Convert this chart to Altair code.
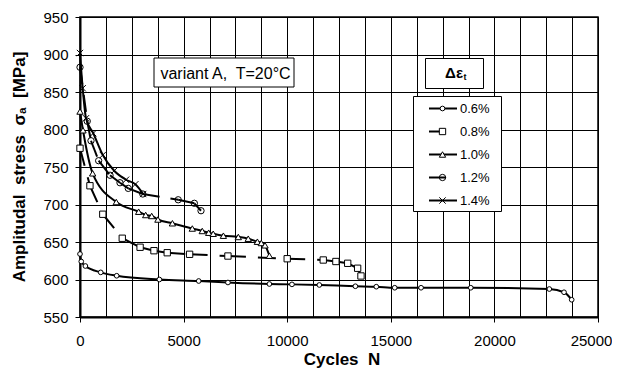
import altair as alt
import pandas as pd

# ---------------- data ----------------
series = ["0.6%", "0.8%", "1.0%", "1.2%", "1.4%"]

n_06 = [0, 60, 260, 1000, 1770, 3830, 5730, 7140, 9140, 10230, 11550, 13290,
        14300, 15190, 16460, 18860, 22650, 23360, 23730]
s_06 = [634, 624, 618, 609.5, 605, 600, 598, 596, 594, 593.5, 592.7, 591,
        590.4, 589, 589, 589, 587.3, 583, 573]

n_08 = [0, 480, 1100, 2040, 2900, 3570, 4210, 5290, 7140, 10000, 11740, 12350,
        12920, 13400, 13560]
s_08 = [775, 725, 687, 655, 643, 638.4, 635.7, 633.6, 631.3, 627.7, 626, 624,
        621.6, 615, 604.7]

n_10 = [0, 145, 610, 1750, 2830, 3170, 3460, 3760, 4460, 5420, 5900, 6210,
        6430, 6920, 7640, 8120, 8560, 8750, 8930, 9140]
s_10 = [824, 799, 741.6, 703.3, 690.4, 686, 684.7, 680, 675, 668, 664.7, 662.4,
        661, 658.4, 656.7, 654.4, 650.4, 648.7, 645.6, 631.7]

n_12 = [0, 350, 530, 900, 1450, 1930, 2330, 3030, 4740, 5520, 5840]
s_12 = [883, 811, 785, 758.4, 739, 729, 721.5, 714, 706.3, 701.6, 691.7]

n_14 = [0, 130, 290, 640, 1100, 1650, 2220, 2670, 3050]
s_14 = [902, 855, 815, 795, 766, 745, 733, 727, 714]

x_ticks = list(range(0, 25001, 1250))
y_ticks = list(range(550, 951, 50))

cycles = dict(zip(series, [n_06, n_08, n_10, n_12, n_14]))
stress = dict(zip(series, [s_06, s_08, s_10, s_12, s_14]))

# ---------------- styles ----------------
FONT = "Liberation Sans"
XMARK = "M-1,-1L1,1M-1,1L1,-1"
style = {
    "0.6%": dict(shape="circle", size=22, fill="white", dash=None, leg_end=377),
    "0.8%": dict(shape="square", size=40, fill="white", dash=[18, 12], leg_end=360),
    "1.0%": dict(shape="triangle-up", size=40, fill="white", dash=None, leg_end=377),
    "1.2%": dict(shape="circle", size=40, fill=None, dash=[17, 11], leg_end=366),
    "1.4%": dict(shape=XMARK, size=40, fill=None, dash=None, leg_end=377),
}

x_scale = alt.Scale(domain=[0, 25000], nice=False, zero=False)
y_scale = alt.Scale(domain=[550, 950], nice=False, zero=False)

x_axis = alt.Axis(
    values=x_ticks, format="d",
    labelExpr="datum.value % 5000 === 0 ? datum.label : ''",
    tickOpacity={"condition": {"test": "datum.value % 5000 === 0", "value": 1}, "value": 0},
    labelOffset={"condition": {"test": "datum.value === 25000", "value": -7}, "value": 0},
    grid=True, gridColor="#000", gridWidth=1, gridOpacity=1,
    domainColor="#000", domainWidth=2,
    tickColor="#000", tickSize=5, tickWidth=1,
    labelFont=FONT, labelFontSize=15, labelColor="#000", labelPadding=11,
    labelFlush=False, labelOverlap=False,
    title="Cycles\u00a0 N", titleFont=FONT, titleFontSize=17, titleFontWeight="bold",
    titleColor="#000", titleX=261.5, titleY=42.5, titleBaseline="middle", titleAlign="center",
)
y_axis = alt.Axis(
    values=y_ticks, format="d",
    grid=True, gridColor="#000", gridWidth=1, gridOpacity=1,
    domainColor="#000", domainWidth=2,
    tickColor="#000", tickSize=5, tickWidth=1,
    labelFont=FONT, labelFontSize=15, labelColor="#000", labelPadding=7,
    labelFlush=False, labelOverlap=False,
    title="Amplitudal\u00a0 stress\u00a0 \u03c3\u2090\u00a0 [MPa]", titleFont=FONT,
    titleFontSize=17, titleFontWeight="bold", titleColor="#000",
    titleAngle=270, titleX=-60.5, titleY=149.5, titleBaseline="middle", titleAlign="center",
)

X = alt.X("N:Q", scale=x_scale, axis=x_axis)
Y = alt.Y("S:Q", scale=y_scale, axis=y_axis)

layers = []
for s in series:
    df = pd.DataFrame({"N": cycles[s], "S": stress[s]})
    st = style[s]
    if st["dash"] is None:
        line = alt.Chart(df).mark_line(
            interpolate="monotone", color="#000", strokeWidth=2
        ).encode(x=X, y=Y, order="N:Q")
    else:
        seg = pd.DataFrame({
            "N": df["N"].values[:-1], "S": df["S"].values[:-1],
            "N2": df["N"].values[1:], "S2": df["S"].values[1:],
        })
        line = alt.Chart(seg).mark_rule(
            color="#000", strokeWidth=2, strokeDash=st["dash"]
        ).encode(x=X, y=Y, x2="N2:Q", y2="S2:Q")
    layers.append(line)

for s in series:
    df = pd.DataFrame({"N": cycles[s], "S": stress[s]})
    st = style[s]
    kw = dict(shape=st["shape"], size=st["size"], stroke="#000", strokeWidth=1, opacity=1)
    if st["fill"]:
        kw.update(filled=True, fill=st["fill"], fillOpacity=1)
    else:
        kw.update(filled=False)
    layers.append(alt.Chart(df).mark_point(**kw).encode(x=X, y=Y))

# ---------------- annotation boxes ----------------
one = pd.DataFrame({"k": [0]})

def box(x1, y1, x2, y2):
    return alt.Chart(one).mark_rect(fill="white", stroke="#000", strokeWidth=1).encode(
        x=alt.value(x1), x2=alt.value(x2), y=alt.value(y1), y2=alt.value(y2)
    )

layers.append(box(74, 41, 214, 70))
layers.append(
    alt.Chart(pd.DataFrame({"t": ["variant A,\u00a0 T=20\u00b0C"]})).mark_text(
        font=FONT, fontSize=16, color="#000", align="center", baseline="middle"
    ).encode(x=alt.value(145.5), y=alt.value(56.5), text="t:N")
)

layers.append(box(345.5, 41.5, 403.5, 71.5))
layers.append(
    alt.Chart(pd.DataFrame({"t": ["\u0394\u03b5"]})).mark_text(
        font=FONT, fontSize=15, fontWeight="bold", color="#000", align="right", baseline="middle"
    ).encode(x=alt.value(383), y=alt.value(56), text="t:N")
)
layers.append(
    alt.Chart(pd.DataFrame({"t": ["t"]})).mark_text(
        font=FONT, fontSize=9, fontWeight="bold", color="#000", align="left", baseline="middle"
    ).encode(x=alt.value(383.5), y=alt.value(60), text="t:N")
)

# legend
layers.append(box(333.5, 79.5, 421.5, 194.5))
for i, s in enumerate(series):
    st = style[s]
    py = 91.5 + 23 * i
    layers.append(
        alt.Chart(one).mark_rule(color="#000", strokeWidth=2).encode(
            x=alt.value(349), x2=alt.value(st["leg_end"]), y=alt.value(py)
        )
    )
    kw = dict(shape=st["shape"], size=st["size"], stroke="#000", strokeWidth=1, opacity=1)
    if st["fill"]:
        kw.update(filled=True, fill=st["fill"], fillOpacity=1)
    else:
        kw.update(filled=False)
    layers.append(
        alt.Chart(one).mark_point(**kw).encode(x=alt.value(362.5), y=alt.value(py))
    )

leg_df = pd.DataFrame({"series": series, "i": list(range(len(series)))})
layers.append(
    alt.Chart(leg_df).mark_text(
        font=FONT, fontSize=13, color="#000", align="left", baseline="middle"
    ).transform_calculate(py="91.5 + 23 * datum.i").encode(
        x=alt.value(380), y=alt.Y("py:Q", scale=None, axis=None), text="series:N"
    )
)

chart = alt.layer(*layers).properties(
    width=518, height=300,
    autosize=alt.AutoSizeParams(type="none"),
    padding={"left": 72, "top": 9, "right": 14, "bottom": 51},
    background="white",
).configure_view(stroke="#000", strokeWidth=1.5)

chart.save("out.html", embed_options={"renderer": "svg", "actions": False})
